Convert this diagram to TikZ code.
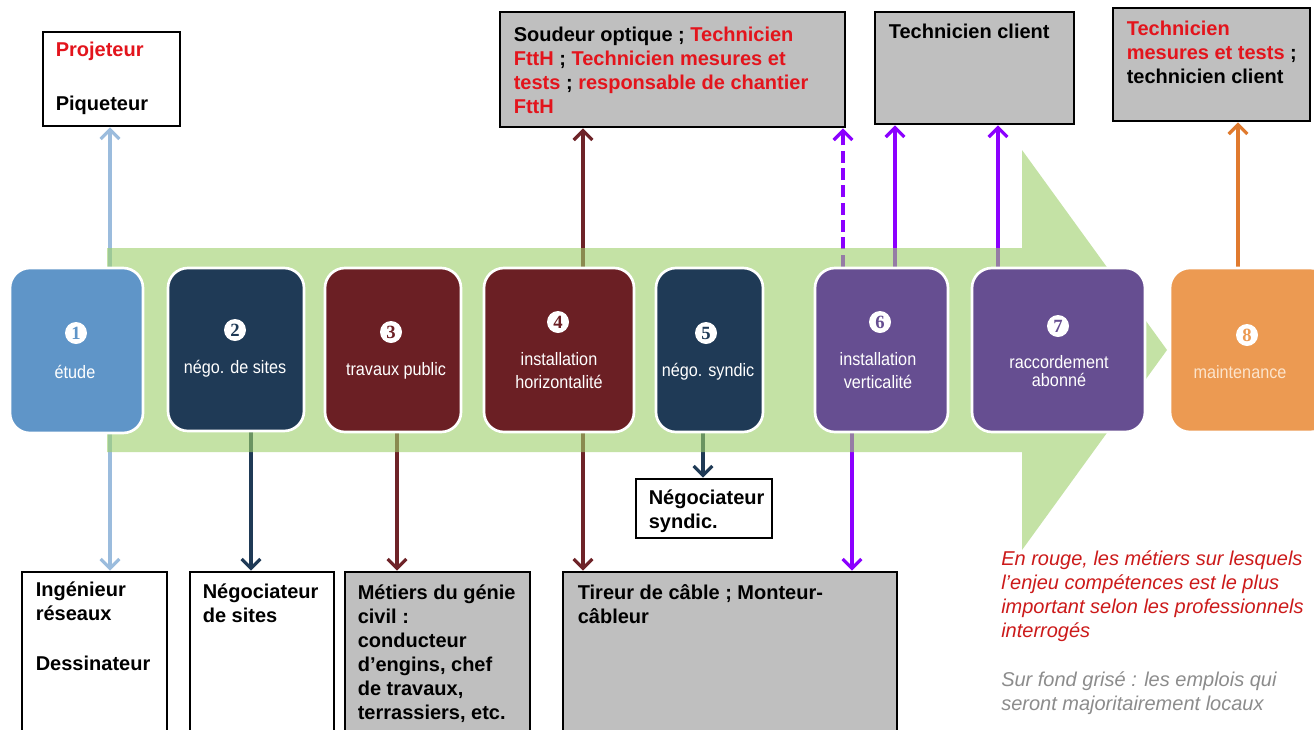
\documentclass[tikz,border=0pt]{standalone}
\usepackage{fontspec}
\setmainfont{Liberation Sans}
\newfontfamily\narrowfont{Liberation Sans}[FakeStretch=0.9]
\newfontfamily\numfont{Liberation Serif}
\usetikzlibrary{arrows.meta,fit,calc}
\definecolor{boxgray}{HTML}{BFBFBF}
\definecolor{tred}{HTML}{E3141C}
\definecolor{legred}{HTML}{CC1A1A}
\definecolor{leggray}{HTML}{8C8C8C}
\definecolor{cblue}{HTML}{5F95C8}
\definecolor{cnavy}{HTML}{1F3A56}
\definecolor{cdred}{HTML}{6B1F24}
\definecolor{cpurple}{HTML}{664E91}
\definecolor{corange}{HTML}{EC9A52}
\definecolor{aviolet}{HTML}{8B00FF}
\definecolor{alblue}{HTML}{9BBCDD}
\definecolor{aorange}{HTML}{E07A2E}
\definecolor{adred}{HTML}{6E2328}
\definecolor{bandgreen}{RGB}{157,208,105}
\pgfdeclarelayer{bg}
\pgfdeclarelayer{mid}
\pgfsetlayers{bg,mid,main}
\begin{document}
\begin{tikzpicture}[x=0.75pt,y=-0.75pt,
  jobbox/.style={draw=black, line width=2.2pt, inner sep=0pt, fill=white},
  greybox/.style={jobbox, fill=boxgray},
  jobtxt/.style={anchor=north west, inner sep=0pt, align=left, font=\bfseries\fontsize{15}{18}\selectfont},
  stage/.style={draw=white, line width=2pt, rounded corners=15pt, inner sep=0pt},
  stagenum/.style={circle, fill=white, inner sep=0pt, minimum size=16.5pt, font=\numfont\bfseries\fontsize{14}{14}\selectfont},
  stagelbl/.style={text=white, align=center, inner sep=0pt, font=\narrowfont\fontsize{13.5}{17.25}\selectfont},
  link/.style={line width=2.4pt, -{Straight Barb[length=7pt,width=14pt]}},
  legtxt/.style={anchor=north west, inner sep=0pt, align=left, font=\itshape\fontsize{15}{18}\selectfont}]
\useasboundingbox (0,0) rectangle (1314,729);
\clip (0,0) rectangle (1314,729);

% ---------- stage boxes ----------
\node[stage, fill=cblue,   fit={(10,268) (143,433)}]  (b1) {};
\node[stage, fill=cnavy,   fit={(168,268) (304,431)}] (b2) {};
\node[stage, fill=cdred,   fit={(325,268) (461,432)}] (b3) {};
\node[stage, fill=cdred,   fit={(484,268) (634,432)}] (b4) {};
\node[stage, fill=cnavy,   fit={(656,268) (763,432)}] (b5) {};
\node[stage, fill=cpurple, fit={(815,268) (948,432)}] (b6) {};
\node[stage, fill=cpurple, fit={(972,268) (1145,432)}] (b7) {};
\node[stage, fill=corange, fit={(1170,268) (1330,432)}] (b8) {};

\node[stagenum, text=cblue]   (n1) at (76,333) {1};
\node[stagenum, text=cnavy]   (n2) at (235,330) {2};
\node[stagenum, text=cdred]   (n3) at (391,332) {3};
\node[stagenum, text=cdred]   (n4) at (558,322) {4};
\node[stagenum, text=cnavy]   (n5) at (706,333) {5};
\node[stagenum, text=cpurple] (n6) at (880,322) {6};
\node[stagenum, text=cpurple] (n7) at (1058,326) {7};
\node[stagenum, text=corange] (n8) at (1247,335) {8};

\node[stagelbl] (l1) at (75,372) {étude};
\node[stagelbl] (l2) at (235,369) {négo. de sites};
\node[stagelbl] (l3) at (396,371) {travaux public};
\node[stagelbl] (l4) at (559,371) {installation\\horizontalité};
\node[stagelbl] (l5) at (708,372) {négo. syndic};
\node[stagelbl] (l6) at (878,371) {installation\\verticalité};
\node[stagelbl, font=\narrowfont\fontsize{13.5}{13.5}\selectfont] (l7) at (1059,371) {raccordement\\abonné};
\node[stagelbl, text={rgb,255:red,252;green,228;blue,204}] (l8) at (1240,372) {maintenance};

% ---------- job boxes (top) ----------
\node[jobbox,  fit={(43,32) (180,126)}]    (proj) {};
\node[greybox, fit={(500,12) (845,127)}]   (soud) {};
\node[greybox, fit={(875,12) (1074,124)}]  (tc) {};
\node[greybox, fit={(1113,8) (1310,121)}]  (tm) {};

\node[jobtxt] (projt) at ($(proj.north west)+(14,11)$)
  {\textcolor{tred}{Projeteur}\\[23pt]Piqueteur};
\node[jobtxt] (soudt) at ($(soud.north west)+(15,16)$)
  {Soudeur optique ; \textcolor{tred}{Technicien}\\
   \textcolor{tred}{FttH} ; \textcolor{tred}{Technicien mesures et}\\
   \textcolor{tred}{tests} ; \textcolor{tred}{responsable de chantier}\\
   \textcolor{tred}{FttH}};
\node[jobtxt] (tct) at ($(tc.north west)+(15,13)$) {Technicien client};
\node[jobtxt] (tmt) at ($(tm.north west)+(15,14)$)
  {\textcolor{tred}{Technicien}\\
   \textcolor{tred}{mesures et tests} ;\\
   technicien client};

% ---------- job boxes (bottom) ----------
\node[jobbox,  fit={(22,572) (167,740)}]   (ing) {};
\node[jobbox,  fit={(190,572) (334,740)}]  (neg) {};
\node[greybox, fit={(345,572) (530,740)}]  (met) {};
\node[greybox, fit={(563,572) (897,740)}]  (tir) {};
\node[jobbox,  fit={(636,479) (772,538)}]  (syn) {};

\node[jobtxt] (ingt) at ($(ing.north west)+(15,11)$)
  {Ingénieur\\réseaux\\[19.5pt]Dessinateur};
\node[jobtxt] (negt) at ($(neg.north west)+(14,13)$)
  {Négociateur\\de sites};
\node[jobtxt] (mett) at ($(met.north west)+(14,14)$)
  {Métiers du génie\\civil :\\conducteur\\d’engins, chef\\de travaux,\\terrassiers, etc.};
\node[jobtxt] (tirt) at ($(tir.north west)+(16,14)$)
  {Tireur de câble ; Monteur-\\câbleur};
\node[jobtxt] (synt) at ($(syn.north west)+(14,12)$)
  {Négociateur\\syndic.};

% ---------- legend ----------
\node[legtxt, text=legred] (leg1) at (1001,550)
  {En rouge, les métiers sur lesquels\\l’enjeu compétences est le plus\\important selon les professionnels\\interrogés};
\node[legtxt, text=leggray] (leg2) at (1001,671)
  {Sur fond grisé : les emplois qui\\seront majoritairement locaux};

% ---------- connectors ----------
\begin{pgfonlayer}{bg}
  \fill[white] (0,0) rectangle (1314,729);
  \draw[link, alblue]  (110,0 |- b1.north) -- (110,0 |- proj.south);
  \draw[link, alblue]  (110,0 |- b1.south) -- (110,0 |- ing.north);
  \draw[link, cnavy]   (251,0 |- b2.south) -- (251,0 |- neg.north);
  \draw[link, adred]   (397,0 |- b3.south) -- (397,0 |- met.north);
  \draw[link, adred]   (583,0 |- b4.north) -- (583,0 |- soud.south);
  \draw[link, adred]   (583,0 |- b4.south) -- (583,0 |- tir.north);
  \draw[link, cnavy]   (703,0 |- b5.south) -- (703,0 |- syn.north);
  \draw[link, aviolet, dash pattern=on 9pt off 4pt] (843,0 |- b6.north) -- (843,0 |- soud.south);
  \draw[link, aviolet] (895,0 |- b6.north) -- (895,0 |- tc.south);
  \draw[link, aviolet] (998,0 |- b7.north) -- (998,0 |- tc.south);
  \draw[link, aviolet] (852,0 |- b6.south) -- (852,0 |- tir.north);
  \draw[link, aorange] (1238,0 |- b8.north) -- (1238,0 |- tm.south);
\end{pgfonlayer}

% ---------- big green arrow ----------
\begin{pgfonlayer}{mid}
  \fill[bandgreen, fill opacity=0.6]
    (107,248) -- (1022,248) -- (1022,150) -- (1167,350) -- (1022,550)
    -- (1022,452) -- (107,452) -- cycle;
\end{pgfonlayer}
\end{tikzpicture}
\end{document}
